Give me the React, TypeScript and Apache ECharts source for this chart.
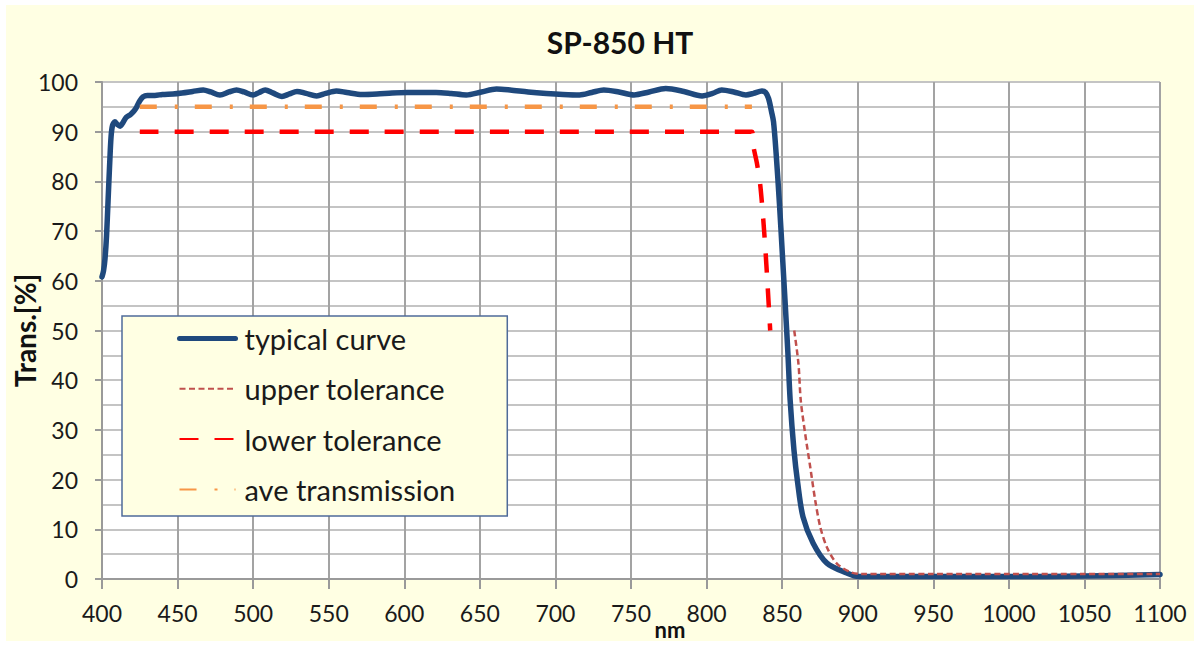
import React, { useEffect, useRef } from "react";
import * as echarts from "echarts";

const titleText = "SP-850 HT";
const xAxisName = "nm";
const yAxisName = "Trans.[%]";
const seriesNames = ["typical curve", "upper tolerance", "lower tolerance", "ave transmission"];

const xMin = 400;
const xMax = 1100;
const xStep = 50;
const yMin = 0;
const yMax = 100;
const yStep = 10;

const typicalNm = [
  400, 401, 402, 403, 404, 405, 406, 407, 408.5, 410, 412, 414, 416, 419, 421, 423, 425, 427, 430, 435,
  440, 447, 453, 460, 467, 472, 478, 484, 489, 494, 500, 504, 508, 513, 519, 524, 529, 535, 542, 548,
  555, 562, 572, 582, 592, 602, 612, 621, 631, 641, 651, 661, 670, 682, 694, 705, 716, 724, 732, 742,
  752, 762, 773, 785, 797, 804, 810, 818, 826, 831, 836.6, 839, 841, 843, 844.3, 846, 848.2, 850.1, 852, 853.8,
  855.3, 857.8, 860.3, 863.8, 870.5, 879.6, 892.8, 900.5, 950, 1000, 1050, 1100,
];
const typicalT = [
  60.8, 62, 64.5, 69, 76, 83, 89, 91.3, 92.0, 91.5, 91.1, 91.9, 92.9, 93.5, 94.1, 95.0, 96.2, 97.0, 97.3, 97.3,
  97.5, 97.6, 97.8, 98.1, 98.4, 98.0, 97.4, 98.0, 98.4, 98.0, 97.4, 97.9, 98.4, 97.8, 97.1, 97.6, 98.1, 97.7, 97.2, 97.7,
  98.2, 97.9, 97.5, 97.6, 97.8, 97.9, 97.9, 97.9, 97.7, 97.4, 98.0, 98.6, 98.4, 98.0, 97.7, 97.5, 97.4, 97.9, 98.4, 98.0,
  97.4, 98.0, 98.7, 98.1, 97.2, 97.7, 98.4, 98.0, 97.4, 97.7, 98.2, 97.9, 96.7, 94.0, 92.0, 85.7, 75.6, 65.6, 55.5, 45.5,
  36.0, 26.0, 19.3, 12.5, 7.2, 3.2, 1.2, 0.5, 0.5, 0.5, 0.6, 0.9,
];

const upperNm = [858, 860.8, 862.3, 865.2, 868.6, 871.9, 875.2, 879.6, 886.2, 895, 902, 950, 1000, 1050, 1100];
const upperT = [50, 43.3, 36, 29.3, 22.5, 15.8, 10.5, 6.4, 3.1, 1.4, 1.0, 1.0, 1.0, 1.0, 1.0];

const lowerNm = [425, 830, 831, 833.3, 835.5, 837.2, 838.8, 840.3, 842.1];
const lowerT = [90, 90, 87, 83.7, 79.3, 73.6, 66.9, 59.5, 50];

const aveNm = [425, 830];
const aveT = [95, 95];

const zip = (xs: number[], ys: number[]) => xs.map((x, i) => [x, ys[i]]);

const FONT = "Lato";

export default function App() {
  const ref = useRef<HTMLDivElement>(null);

  useEffect(() => {
    if (!ref.current) return;
    const chart = echarts.init(ref.current, undefined, { renderer: "svg" });
    chart.setOption({
      animation: false,
      backgroundColor: "#ffffff",
      graphic: [
        {
          type: "rect",
          z: -10,
          silent: true,
          shape: { x: 6, y: 5, width: 1188, height: 636 },
          style: { fill: "#FFFFE3" },
        },
      ],
      title: {
        text: titleText,
        left: 615,
        top: 22,
        textAlign: "center",
        textStyle: { fontFamily: FONT, fontWeight: "bold", fontSize: 30, color: "#111111" },
      },
      grid: {
        left: 102,
        top: 82,
        right: 39,
        bottom: 67,
        show: true,
        backgroundColor: "#ffffff",
        borderWidth: 0,
        containLabel: false,
        outerBoundsMode: "none",
      },
      legend: {
        orient: "vertical",
        left: 122,
        top: 316,
        padding: [8, 52, 12, 55],
        itemGap: 21.3,
        itemWidth: 56,
        itemHeight: 14,
        backgroundColor: "#FFFFE3",
        borderColor: "#4F6B9A",
        borderWidth: 1.5,
        itemStyle: { opacity: 0 },
        textStyle: { fontFamily: FONT, fontSize: 29, color: "#1a1a1a", lineHeight: 26, padding: [0, 0, 0, 4] },
        data: [
          { name: seriesNames[0], lineStyle: { width: 5 } },
          { name: seriesNames[1] },
          { name: seriesNames[2] },
          { name: seriesNames[3] },
        ],
      },
      xAxis: {
        type: "value",
        min: xMin,
        max: xMax,
        interval: xStep,
        name: xAxisName,
        nameLocation: "middle",
        nameGap: 40,
        nameMoveOverlap: false,
        nameTextStyle: {
          fontFamily: FONT,
          fontWeight: "bold",
          fontSize: 22,
          lineHeight: 20,
          color: "#111111",
          padding: [0, 0, 0, 78],
        },
        axisLine: { show: true, onZero: false, lineStyle: { color: "#9A9A9A", width: 2 } },
        axisTick: { show: true, length: 10, lineStyle: { color: "#9A9A9A", width: 2 } },
        axisLabel: {
          fontFamily: FONT,
          fontSize: 23,
          color: "#1a1a1a",
          margin: 22,
          formatter: (v: number) => String(v),
        },
        splitLine: { show: true, lineStyle: { color: "#A3A3A3", width: 2 } },
      },
      yAxis: {
        type: "value",
        min: yMin,
        max: yMax,
        interval: yStep,
        name: yAxisName,
        nameLocation: "middle",
        nameGap: 63,
        nameMoveOverlap: false,
        nameRotate: 90,
        nameTextStyle: { fontFamily: FONT, fontWeight: "bold", fontSize: 28, color: "#111111" },
        axisLine: { show: true, lineStyle: { color: "#9A9A9A", width: 2 } },
        axisTick: { show: true, length: 7, lineStyle: { color: "#9A9A9A", width: 2 } },
        axisLabel: { fontFamily: FONT, fontSize: 23, color: "#1a1a1a", margin: 24 },
        splitLine: { show: true, lineStyle: { color: "#C4C4C4", width: 2 } },
        minorTick: { show: false, splitNumber: 2 },
        minorSplitLine: { show: true, lineStyle: { color: "#C4C4C4", width: 2 } },
      },
      series: [
        {
          name: seriesNames[0],
          type: "line",
          data: zip(typicalNm, typicalT),
          showSymbol: false,
          symbol: "none",
          smooth: 0.3,
          lineStyle: { color: "#1F497D", width: 5.5, cap: "round", join: "round" },
          itemStyle: { color: "#1F497D" },
          z: 3,
        },
        {
          name: seriesNames[1],
          type: "line",
          data: zip(upperNm, upperT),
          showSymbol: false,
          symbol: "none",
          smooth: 0.3,
          lineStyle: { color: "#C0504D", width: 2.5, type: [6, 3.5] },
          itemStyle: { color: "#C0504D" },
          z: 4,
        },
        {
          name: seriesNames[2],
          type: "line",
          data: zip(lowerNm, lowerT),
          showSymbol: false,
          symbol: "none",
          smooth: 0.2,
          lineStyle: { color: "#FF0000", width: 4.5, type: [19, 16] },
          itemStyle: { color: "#FF0000" },
          z: 4,
        },
        {
          name: seriesNames[3],
          type: "line",
          data: zip(aveNm, aveT),
          showSymbol: false,
          symbol: "none",
          lineStyle: { color: "#F79646", width: 4.5, type: [17, 18, 3, 17] },
          itemStyle: { color: "#F79646" },
          z: 4,
        },
      ],
    });
    return () => chart.dispose();
  }, []);

  return (
    <div
      ref={ref}
      style={{ position: "fixed", left: 0, top: 0, width: 1199, height: 646 }}
    />
  );
}
